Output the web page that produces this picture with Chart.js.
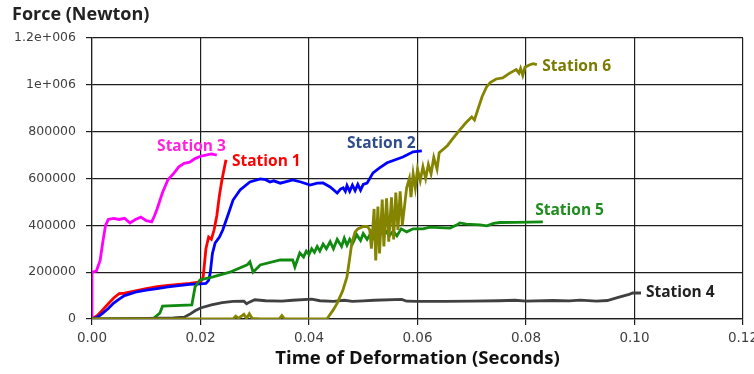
<!DOCTYPE html>
<html><head><meta charset="utf-8">
<script src="https://cdn.jsdelivr.net/npm/chart.js@4/dist/chart.umd.min.js"></script>
<style>html,body{margin:0;padding:0;background:#fff}#wrap{width:754px;height:374px}</style>
</head><body><div id="wrap"><canvas id="c" width="754" height="374"></canvas></div>
<script>
// ---- data (time in seconds, force in Newton) ----
const xTicks = [0, 0.02, 0.04, 0.06, 0.08, 0.10, 0.12];
const yTicks = [0, 200000, 400000, 600000, 800000, 1000000, 1200000];
const seriesNames = ["Station 1","Station 2","Station 3","Station 4","Station 5","Station 6"];

const s1T = [0,0.001,0.002,0.003,0.004,0.005,0.006,0.008,0.010,0.012,0.014,0.016,0.018,0.020,0.0205,0.021,0.0215,0.022,0.0225,0.023,0.0235,0.024,0.0247];
const s1F = [0,15000,40000,65000,90000,108000,110000,120000,130000,138000,143000,148000,152000,158000,180000,300000,350000,340000,380000,440000,530000,600000,680000];

const s2T = [0,0.001,0.002,0.003,0.004,0.005,0.006,0.008,0.010,0.012,0.014,0.016,0.018,0.020,0.021,0.0215,0.0218,0.0222,0.0227,0.0235,0.0241,0.025,0.026,0.0273,0.0291,0.031,0.032,0.0328,0.0335,0.0347,0.037,0.0385,0.0402,0.0415,0.0426,0.0439,0.0452,0.0458,0.0463,0.0467,0.047,0.0475,0.048,0.0485,0.049,0.0495,0.05,0.0507,0.0518,0.053,0.0544,0.0573,0.0592,0.0608];
const s2F = [0,8000,25000,45000,68000,85000,100000,115000,123000,130000,137000,143000,148000,150000,152000,165000,197000,280000,325000,350000,380000,440000,508000,551000,585000,598000,595000,585000,590000,580000,594000,585000,572000,580000,581000,564000,538000,555000,560000,545000,570000,545000,572000,548000,575000,550000,575000,580000,624000,645000,667000,692000,714000,718000];

const s3T = [0,0,0.0008,0.0015,0.002,0.0025,0.003,0.004,0.005,0.006,0.007,0.008,0.009,0.010,0.011,0.0115,0.012,0.013,0.014,0.015,0.016,0.017,0.018,0.019,0.020,0.021,0.022,0.023];
const s3F = [0,200000,205000,250000,330000,400000,425000,430000,425000,430000,410000,425000,435000,420000,415000,440000,470000,540000,595000,620000,650000,665000,670000,685000,695000,700000,705000,700000];

const s4T = [0,0.005,0.010,0.015,0.017,0.018,0.019,0.020,0.022,0.024,0.026,0.028,0.0285,0.029,0.030,0.032,0.035,0.037,0.0405,0.042,0.0445,0.0465,0.048,0.050,0.052,0.0571,0.058,0.060,0.065,0.070,0.075,0.078,0.080,0.085,0.088,0.090,0.093,0.095,0.097,0.099,0.0997,0.1012];
const s4F = [0,1000,3000,5000,8000,20000,35000,47000,60000,70000,75000,76000,65000,72000,82000,78000,76000,80000,85000,78000,75000,80000,75000,77000,80000,84000,76000,75000,75000,76000,78000,80000,76000,79000,77000,81000,76000,79000,92000,105000,111000,111000];

const s5T = [0,0.0112,0.0125,0.013,0.0184,0.019,0.0199,0.0223,0.0254,0.0286,0.0291,0.0297,0.031,0.0347,0.037,0.0374,0.0383,0.039,0.0395,0.040,0.0405,0.041,0.0415,0.042,0.0426,0.0432,0.0439,0.0445,0.0452,0.046,0.0465,0.047,0.0475,0.048,0.0488,0.0495,0.050,0.0507,0.0515,0.052,0.0525,0.0531,0.054,0.0548,0.0555,0.0562,0.057,0.058,0.0592,0.061,0.0623,0.064,0.066,0.0673,0.0678,0.069,0.0715,0.0728,0.074,0.0752,0.078,0.0831];
const s5F = [0,0,25000,55000,60000,137000,167000,180000,200000,231000,244000,200000,231000,252000,252000,222000,282000,265000,290000,275000,300000,285000,310000,290000,320000,300000,330000,300000,340000,310000,345000,315000,340000,320000,360000,335000,365000,340000,370000,345000,375000,360000,380000,355000,375000,355000,385000,372000,385000,385000,392000,390000,388000,402000,410000,405000,402000,398000,408000,412000,413000,415000];

const s6T = [0,0.026,0.0265,0.027,0.028,0.0285,0.029,0.0295,0.031,0.0345,0.035,0.0355,0.0433,0.0445,0.0452,0.0462,0.047,0.0475,0.0479,0.0485,0.049,0.050,0.0508,0.0512,0.0515,0.052,0.0523,0.0527,0.053,0.0535,0.0538,0.0543,0.0547,0.0552,0.0556,0.056,0.0564,0.0568,0.0572,0.0577,0.058,0.0585,0.0588,0.0592,0.0596,0.060,0.0605,0.061,0.0615,0.062,0.0625,0.063,0.0636,0.064,0.0655,0.0665,0.0678,0.069,0.070,0.0705,0.0712,0.0719,0.0727,0.0734,0.0745,0.0757,0.077,0.0782,0.0787,0.079,0.0794,0.0798,0.0806,0.0813,0.082];
const s6F = [0,0,12000,3000,20000,2000,22000,3000,0,0,15000,0,0,40000,68000,120000,180000,260000,325000,372000,385000,395000,395000,380000,300000,470000,250000,480000,280000,510000,310000,515000,330000,520000,340000,540000,380000,545000,400000,500000,560000,600000,520000,620000,560000,640000,590000,650000,600000,660000,620000,690000,640000,710000,740000,770000,808000,840000,863000,850000,900000,949000,990000,1010000,1025000,1030000,1050000,1065000,1050000,1070000,1040000,1075000,1085000,1090000,1086000];

const seriesColors = ["#ff0000","#0000ff","#ff00ff","#404040","#108a10","#848400"];
const seriesT = [s1T,s2T,s3T,s4T,s5T,s6T];
const seriesF = [s1F,s2F,s3F,s4F,s5F,s6F];

// label anchors in data space (t, F) for the station annotations
const labelAnchors = [
  {t:0.0258,f:671000,color:"#ff0000"},
  {t:0.0470,f:748000,color:"#2e4b8b"},
  {t:0.0120,f:735000,color:"#ff22dd"},
  {t:0.1021,f:111000,color:"#222222"},
  {t:0.0817,f:462000,color:"#1e8c1e"},
  {t:0.0830,f:1077000,color:"#7a7a00"}
];

const datasets = seriesNames.map((n,i)=>({
  label:n,
  data: seriesT[i].map((t,j)=>({x:t,y:seriesF[i][j]})),
  borderColor: seriesColors[i],
  backgroundColor: seriesColors[i],
  borderWidth: 2.8,
  pointRadius: 0,
  showLine: true,
  tension: 0,
  fill: false
}));
// draw order like reference: olive under others
const order = [5,3,4,1,0,2];
const orderedDatasets = order.map(i=>datasets[i]);

const annot = {
  id:'annot',
  afterDraw(chart){
    const ctx = chart.ctx, xs = chart.scales.x, ys = chart.scales.y;
    ctx.save();
    ctx.font = "bold 15.5px 'Open Sans'";
    ctx.textBaseline = "middle";
    ctx.textAlign = "left";
    labelAnchors.forEach((a,i)=>{
      ctx.fillStyle = a.color;
      ctx.fillText(seriesNames[i], xs.getPixelForValue(a.t), ys.getPixelForValue(a.f));
    });
    ctx.fillStyle = "#222";
    ctx.font = "bold 18px 'Open Sans'";
    ctx.textBaseline = "middle";
    ctx.fillText("Force (Newton)", 12, 15);
    ctx.restore();
  }
};

new Chart(document.getElementById('c'), {
  type:'scatter',
  data:{datasets: orderedDatasets},
  options:{
    responsive:false,
    animation:false,
    layout:{padding:{left:0,right:11,top:38,bottom:0}},
    plugins:{legend:{display:false},tooltip:{enabled:false}},
    scales:{
      x:{
        type:'linear', min:0, max:0.12,
        afterBuildTicks(s){ s.ticks = xTicks.map(v=>({value:v})); },
        afterFit(s){ s.height = 55; s.paddingLeft = 0; s.paddingRight = 0; },
        ticks:{ callback:v=>Number(v).toFixed(2), color:"#3f3f3f", padding:5, maxRotation:0, autoSkip:false,
          font:{family:"'DejaVu Sans'", size:13.5} },
        grid:{ color:"#1e1e1e", lineWidth:1.2, tickLength:6, drawTicks:true },
        border:{ color:"#1e1e1e", width:1.2 },
        title:{ display:true, text:"Time of Deformation (Seconds)", color:"#111",
          font:{family:"'Open Sans'", size:18.5, weight:'bold'}, padding:{top:0} }
      },
      y:{
        type:'linear', min:0, max:1200000,
        afterBuildTicks(s){ s.ticks = yTicks.map(v=>({value:v})); },
        afterFit(s){ s.width = 92; s.paddingTop = 0; s.paddingBottom = 0; },
        ticks:{ callback:v=> v===1200000 ? "1.2e+006" : (v===1000000 ? "1e+006" : String(v)),
          color:"#3f3f3f", padding:10, autoSkip:false, font:{family:"'DejaVu Sans'", size:12.5} },
        grid:{ color:"#1e1e1e", lineWidth:1.2, tickLength:6, drawTicks:true },
        border:{ color:"#1e1e1e", width:1.2 }
      }
    }
  },
  plugins:[annot]
});
</script></body></html>
